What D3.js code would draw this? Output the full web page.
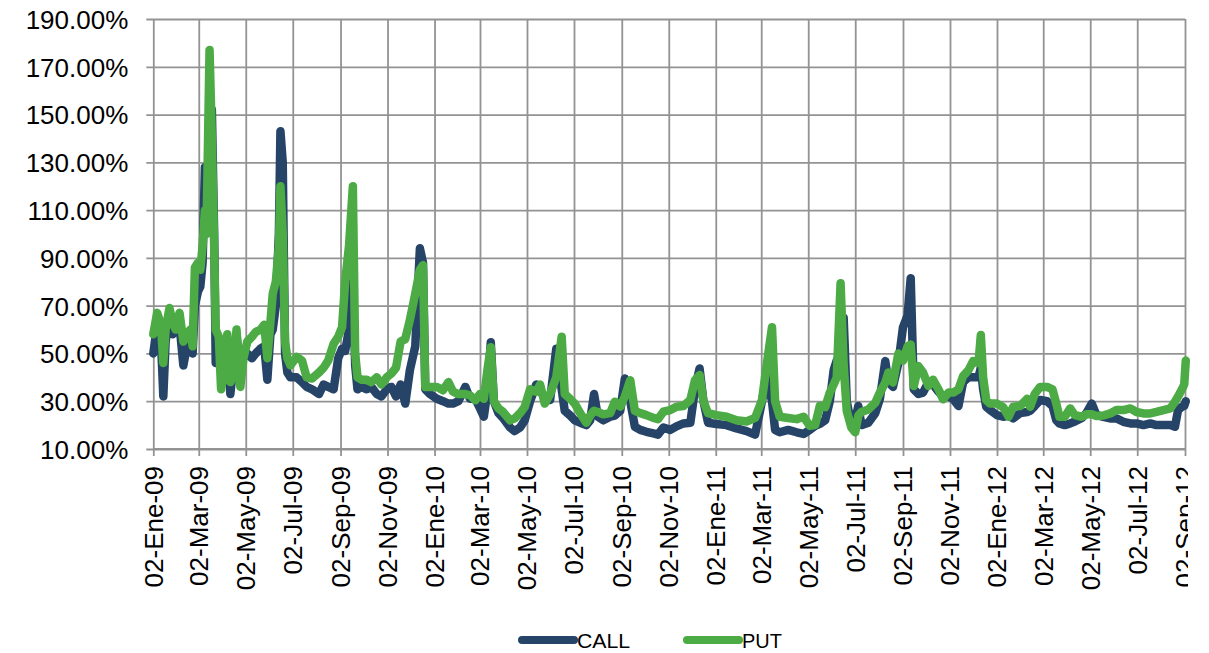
<!DOCTYPE html>
<html><head><meta charset="utf-8">
<script src="https://cdn.jsdelivr.net/npm/d3@7"></script>
<style>
body{margin:0;background:#fff}
svg{display:block}
text{font-family:"Liberation Sans",Arial,sans-serif;fill:#000}
</style></head>
<body><svg id="c" width="1209" height="653"></svg>
<script>
const dates = [
"2009-01-02","2009-01-07","2009-01-12","2009-01-15","2009-01-18","2009-01-23","2009-01-27","2009-01-31","2009-02-05","2009-02-10",
"2009-02-14","2009-02-19","2009-02-22","2009-02-25","2009-03-01","2009-03-04","2009-03-07","2009-03-10","2009-03-12","2009-03-16",
"2009-03-19","2009-03-22","2009-03-24","2009-03-28","2009-03-31","2009-04-05","2009-04-08","2009-04-12","2009-04-16","2009-04-20",
"2009-04-25","2009-04-29","2009-05-04","2009-05-10","2009-05-15","2009-05-21","2009-05-26","2009-05-30","2009-06-03","2009-06-06",
"2009-06-10","2009-06-14","2009-06-16","2009-06-19","2009-06-22","2009-06-25","2009-06-29",
"2009-07-07","2009-07-14","2009-07-20","2009-07-27","2009-08-05","2009-08-11","2009-08-17","2009-08-24","2009-08-30","2009-09-04",
"2009-09-08","2009-09-13","2009-09-18","2009-09-21","2009-09-24","2009-09-29","2009-10-06","2009-10-12","2009-10-19","2009-10-25",
"2009-11-01","2009-11-07","2009-11-13","2009-11-19","2009-11-25","2009-12-01","2009-12-08","2009-12-14","2009-12-18","2009-12-21",
"2009-12-27",
"2010-01-05","2010-01-13","2010-01-20","2010-01-26","2010-02-02","2010-02-11","2010-02-17","2010-02-24","2010-03-02","2010-03-07",
"2010-03-12","2010-03-16","2010-03-20","2010-03-26","2010-04-01","2010-04-10","2010-04-16","2010-04-23","2010-04-29","2010-05-06",
"2010-05-14","2010-05-19","2010-05-25","2010-06-01","2010-06-09","2010-06-16","2010-06-20","2010-06-27","2010-07-03","2010-07-10",
"2010-07-18","2010-07-23","2010-07-28","2010-08-02","2010-08-09","2010-08-18",
"2010-08-24","2010-08-31","2010-09-06","2010-09-13","2010-09-19","2010-09-26","2010-10-04","2010-10-13","2010-10-19","2010-10-26",
"2010-11-04","2010-11-12","2010-11-21","2010-11-30","2010-12-06","2010-12-12","2010-12-17","2010-12-23","2011-01-03","2011-01-16",
"2011-01-29","2011-02-11","2011-02-22","2011-03-03","2011-03-09","2011-03-16","2011-03-20","2011-03-26","2011-04-06","2011-04-17",
"2011-04-26","2011-05-04","2011-05-11","2011-05-17","2011-05-24","2011-05-30","2011-06-04","2011-06-08","2011-06-13","2011-06-17",
"2011-06-21","2011-06-27","2011-07-02","2011-07-06","2011-07-10","2011-07-19","2011-07-28","2011-08-03","2011-08-10","2011-08-14",
"2011-08-20","2011-08-27","2011-09-02","2011-09-08","2011-09-12","2011-09-16","2011-09-22","2011-09-28","2011-10-05","2011-10-11",
"2011-10-18","2011-10-24","2011-10-31","2011-11-06","2011-11-13","2011-11-19","2011-11-26","2011-12-02",
"2011-12-09","2011-12-12","2011-12-15","2011-12-19","2011-12-24","2012-01-02","2012-01-10","2012-01-17","2012-01-23","2012-02-01",
"2012-02-10","2012-02-14","2012-02-20","2012-02-27","2012-03-07","2012-03-14","2012-03-19","2012-03-23","2012-03-30","2012-04-06",
"2012-04-12","2012-04-21","2012-04-27","2012-05-04","2012-05-10","2012-05-19","2012-05-28","2012-06-05","2012-06-14","2012-06-23",
"2012-07-01","2012-07-10","2012-07-19","2012-07-27","2012-08-05","2012-08-14","2012-08-20","2012-08-24","2012-08-29","2012-09-01",
"2012-09-03"
];
const callValues = [
50,62,55,32,55,66,58,60,62,45,
52,58,50,70,76,78,88,128,110,120,
152,100,46,50,50,45,55,33,45,58,
40,50,50,48,50,52,53,39,58,60,
70,100,143,130,50,42,40,
40,38,36,35,33,37,36,35,48,52,
51,60,80,45,35,36,35,36,33,32,
35,36,32,37,29,43,53,94,88,35,
33,
31,30,29,29,30,36,31,31,27,23.5,
35,54.7,30,25,23,19,17.5,19,22,30,
37,35,31,30.5,52,35,26,24,22,21,
20,22,33,23.5,22,23.5,
24,26,39.5,30,19.3,18,17.2,16.5,16,19,
18,19.5,20.7,21,35,43.7,30,21,20.5,20,
18.6,17.5,16,30,40,30,18,17,18,17,
16.3,18,19.7,20.5,22,30,43,47,50,65,
30,20,22,28,20,21,25,31,46.8,38,
36,46,61,66,81.5,35,33,33.6,38,37,
34,32,32,31,28,38,40,40,
40,44,35,27.7,26.3,24.2,23.5,24,22.8,25,
25.5,26,28,30.5,30,28,22,20.7,20,20.7,
21.5,23,25,29,24.2,23.5,22.8,22.8,21.4,20.7,
20.7,20,20.7,20,20,20,19.3,26.3,27.7,28,
30
];
const putValues = [
58,67,62,46,60,69,63,60,67,55,
58,60,53,86,88,85,95,110,100,177,
140,95,60,57,35,45,58,38,40,60,
36,48,55,57,59,60,62,48,63,75,
80,95,120,100,55,48,45,
48.6,47,40,39.5,42,44,47,54,57,61,
80,95,120,50,40,39,39,38,40,37,
40,41.6,44,55,56,64,75,85,87,36,
36,
36,34.6,38,34,33,33,32.5,30.4,33,31,
44,52.6,30,27,25.5,22,22.8,25,27.6,35,
34,37,29,33,40,57,33,31,29,25,
21,24,26,25.5,24.5,25,
29.8,27.7,32,38.8,26,25,24.2,23,22.5,25.6,
26.3,27.7,28,30.5,38.8,41,30,25,24.2,23.5,
22,21.5,23,30.5,45,61,30,23.5,23,22.5,
23.5,19.7,20,28,27.5,33.6,37,40,79.4,45,
26,19,17,24,25.5,26.5,29.4,33.6,37.8,42,
37.8,50,47,53,53.7,36.4,44.7,42,36.4,39,
35,30.8,33.6,33.6,35,40.5,43,46.8,
46,57.7,40,30.5,29,29,27.5,23.5,27.7,28,
31,27.7,33,36,36,35,29,23.5,23.5,27,
24.2,23.5,24.5,24.5,23.8,24,24.9,26.3,26.3,27,
25.5,24.9,24.9,25.5,26.3,27,29.8,32,35,37,
47
];
const seriesNames = ["CALL","PUT"];
const seriesColors = ["#264468","#4cab44"];
const yTicks = [10,30,50,70,90,110,130,150,170,190];
const xTickDates = ["2009-01-02","2009-03-02","2009-05-02","2009-07-02","2009-09-02","2009-11-02",
"2010-01-02","2010-03-02","2010-05-02","2010-07-02","2010-09-02","2010-11-02",
"2011-01-02","2011-03-02","2011-05-02","2011-07-02","2011-09-02","2011-11-02",
"2012-01-02","2012-03-02","2012-05-02","2012-07-02","2012-09-02"];
const xTickLabels = ["02-Ene-09","02-Mar-09","02-May-09","02-Jul-09","02-Sep-09","02-Nov-09",
"02-Ene-10","02-Mar-10","02-May-10","02-Jul-10","02-Sep-10","02-Nov-10",
"02-Ene-11","02-Mar-11","02-May-11","02-Jul-11","02-Sep-11","02-Nov-11",
"02-Ene-12","02-Mar-12","02-May-12","02-Jul-12","02-Sep-12"];

const parse = d3.timeParse("%Y-%m-%d");
const svg = d3.select("#c");
const L = 153.3, R = 1185, T = 19, B = 449;
const x = d3.scaleTime().domain([parse("2009-01-02"), parse("2012-09-02")]).range([L, R]);
const y = d3.scaleLinear().domain([10,190]).range([B, T]);
const gridColor = "#939393";
const FONT = "'Liberation Sans', Arial, sans-serif";

// horizontal grid + y ticks
const yAxis = d3.axisLeft(y).tickValues(yTicks).tickSize(0)
  .tickFormat(d => d.toFixed(2) + "%");
const gy = svg.append("g").attr("transform", `translate(${L - 7},0)`).call(yAxis);
gy.select(".domain").remove();
gy.selectAll(".tick line").attr("stroke", gridColor).attr("stroke-width", 1.8)
  .attr("x1", 0).attr("x2", R - L + 7);
gy.selectAll(".tick text").attr("font-size", 26).attr("x", -18).attr("dy", "0.36em")
  .attr("font-family", FONT).attr("fill","#000");

// vertical grid + x ticks
const xTicks = xTickDates.map(parse);
const gx = svg.append("g").attr("transform", `translate(0,${B})`)
  .call(d3.axisBottom(x).tickValues(xTicks).tickSize(7).tickFormat((d,i) => xTickLabels[i]));
gx.select(".domain").attr("stroke", gridColor).attr("stroke-width", 1.8).attr("d", `M${L},0H${R}`);
gx.selectAll(".tick line").attr("stroke", gridColor).attr("stroke-width", 1.8).attr("y1", -(B - T)).attr("y2", 7);

// x labels moved into a clipped group (the last one is cut at the chart edge)
svg.append("clipPath").attr("id","lblclip").append("rect")
  .attr("x", 0).attr("y", 0).attr("width", 1188).attr("height", 653);
const lblGroup = svg.append("g").attr("clip-path","url(#lblclip)");
gx.selectAll(".tick").each(function(){
  const txt = d3.select(this).select("text").remove();
  lblGroup.append(() => txt.node());
});
lblGroup.selectAll("text")
  .attr("font-size", 26)
  .attr("font-family", FONT)
  .attr("fill","#000")
  .attr("text-anchor", "end")
  .attr("x", 0).attr("y", 0).attr("dy", "0.36em")
  .attr("transform", d => `translate(${x(d)},${B + 17}) rotate(-90)`);

// lines
const line = d3.line().x(d => x(d.date)).y(d => y(d.v)).curve(d3.curveLinear);
const seriesData = [callValues, putValues].map(vals => dates.map((s,i) => ({date: parse(s), v: vals[i]})));
svg.append("g").selectAll("path").data(seriesData).join("path")
  .attr("d", line).attr("fill","none")
  .attr("stroke", (d,i) => seriesColors[i])
  .attr("stroke-width", 8.5)
  .attr("stroke-linejoin","round").attr("stroke-linecap","round");

// legend
const legend = svg.append("g");
const legendPos = [518, 683];
seriesNames.forEach((n,i) => {
  const g = legend.append("g").attr("transform", `translate(${legendPos[i]},640)`);
  g.append("line").attr("x1", 4).attr("x2", 56).attr("y1",0).attr("y2",0)
    .attr("stroke", seriesColors[i]).attr("stroke-width", 8).attr("stroke-linecap","round");
  g.append("text").attr("x", 59).attr("y", 0).attr("dy","0.36em").attr("font-size", 21)
    .attr("font-family", FONT)
    .attr("textLength", n.length * 13.3).attr("lengthAdjust","spacingAndGlyphs").text(n);
});
</script>
</body></html>
